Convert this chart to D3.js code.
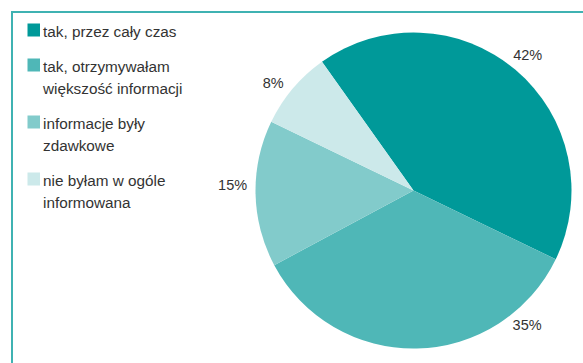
<!DOCTYPE html>
<html><head><meta charset="utf-8">
<script src="https://cdn.jsdelivr.net/npm/d3@7"></script>
<style>html,body{margin:0;padding:0;background:#fff;}svg{display:block;}</style>
</head><body>
<svg id="chart" width="583" height="363"></svg>
<script>
const categories = [
  ["tak, przez cały czas"],
  ["tak, otrzymywałam", "większość informacji"],
  ["informacje były", "zdawkowe"],
  ["nie byłam w ogóle", "informowana"]
];
const values = [42, 35, 15, 8];
const labels = ["42%", "35%", "15%", "8%"];
const colors = ["#009999", "#4fb7b7", "#82cbcb", "#cce9ea"];
// label angle shifts from slice middle (degrees), layout only
const labelShift = [0, -39, 3, -2.6];
const labelRadius = [177, 176, 181, 177];

const svg = d3.select("#chart");
const font = "'Liberation Sans', Arial, sans-serif";

// frame
svg.append("line").attr("x1", 12).attr("x2", 12).attr("y1", 11).attr("y2", 363)
  .attr("stroke", "#3fb2b2").attr("stroke-width", 2);
svg.append("line").attr("x1", 11).attr("x2", 583).attr("y1", 12).attr("y2", 12)
  .attr("stroke", "#3fb2b2").attr("stroke-width", 2);

// pie
const cx = 413.5, cy = 190.5, r = 158;
const startDeg = -35.4;
const pie = d3.pie().sort(null).value(d => d)
  .startAngle(startDeg * Math.PI / 180)
  .endAngle((startDeg + 360) * Math.PI / 180);
const arcs = pie(values);
const arc = d3.arc().innerRadius(0).outerRadius(r);
const g = svg.append("g").attr("transform", `translate(${cx},${cy})`);
g.selectAll("path").data(arcs).join("path")
  .attr("d", arc).attr("fill", (d, i) => colors[i]);

g.selectAll("text").data(arcs).join("text")
  .attr("x", (d, i) => {
    const a = (d.startAngle + d.endAngle) / 2 + labelShift[i] * Math.PI / 180;
    return Math.sin(a) * labelRadius[i];
  })
  .attr("y", (d, i) => {
    const a = (d.startAngle + d.endAngle) / 2 + labelShift[i] * Math.PI / 180;
    return -Math.cos(a) * labelRadius[i];
  })
  .attr("text-anchor", "middle").attr("dominant-baseline", "central")
  .attr("font-family", font).attr("font-size", 14.5).attr("fill", "#333")
  .text((d, i) => labels[i]);

// legend
const baselines = [];
let yb = 37;
categories.forEach(c => { baselines.push(yb); yb += (c.length - 1) * 22 + 35; });
const lg = svg.append("g");
categories.forEach((lines, i) => {
  lg.append("rect").attr("x", 27.5).attr("y", baselines[i] - 13.5)
    .attr("width", 12.5).attr("height", 13).attr("fill", colors[i]);
  const t = lg.append("text").attr("x", 43).attr("y", baselines[i])
    .attr("font-family", font).attr("font-size", 15.3).attr("fill", "#333");
  lines.forEach((ln, j) => {
    t.append("tspan").attr("x", 43).attr("y", baselines[i] + j * 22).text(ln);
  });
});
</script>
</body></html>
